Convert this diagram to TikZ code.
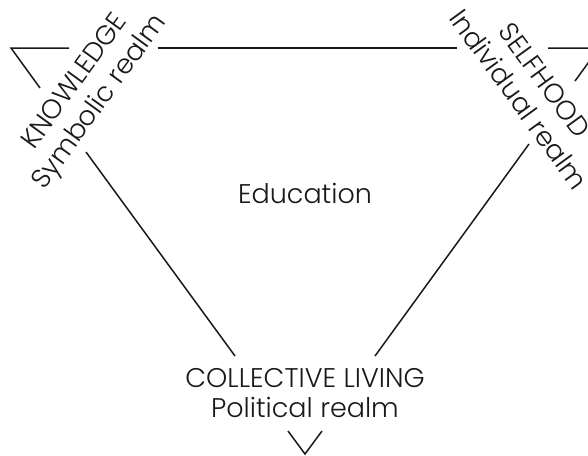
\documentclass[tikz,border=0pt]{standalone}
\usepackage{fontspec}
\setmainfont{Poppins}[UprightFont=* Light]
\begin{document}
\begin{tikzpicture}[x=1pt,y=-1pt,
  side/.style={line width=1.5pt, draw=black!90},
  lbl/.style={font=\fontsize{27}{30}\selectfont, text=black!90, inner sep=0pt}]
\clip (0,0) rectangle (588,455);
% vertices and break points
\coordinate (A) at (11,48);
\coordinate (B) at (599,48);
\coordinate (C) at (305,454);
\coordinate (t1) at (69,48);
\coordinate (t2) at (158,48);
\coordinate (t3) at (457,48);
\coordinate (t4) at (548,48);
\coordinate (l1) at (40,88);
\coordinate (l2) at (86,152);
\coordinate (l3) at (235,356);
\coordinate (r1) at (575,81);
\coordinate (r2) at (529,144);
\coordinate (r3) at (375,356);
\coordinate (v1) at (288,431);
\coordinate (v2) at (322,431);
% sides
\draw[side] (t1) -- (A) -- (l1);
\draw[side] (t2) -- (t3);
\draw[side] (t4) -- (B) -- (r1);
\draw[side] (l2) -- (l3);
\draw[side] (r2) -- (r3);
\draw[side] (v1) -- (C) -- (v2);
% labels
\node[lbl] (edu) at (305,193.5) {Education};
\node[lbl] (coll) at (305,378) {COLLECTIVE LIVING};
\node[lbl] (pol) at (305,407) {Political realm};
\node[lbl, anchor=base, rotate=54] (know) at (81,86) {KNOWLEDGE};
\node[lbl, anchor=base, rotate=54] (symb) at (105.5,106.5) {Symbolic realm};
\node[lbl, anchor=base, rotate=-54] (self) at (537,86) {SELFHOOD};
\node[lbl, anchor=base, rotate=-54] (indiv) at (511,105) {Individual realm};
\end{tikzpicture}
\end{document}
